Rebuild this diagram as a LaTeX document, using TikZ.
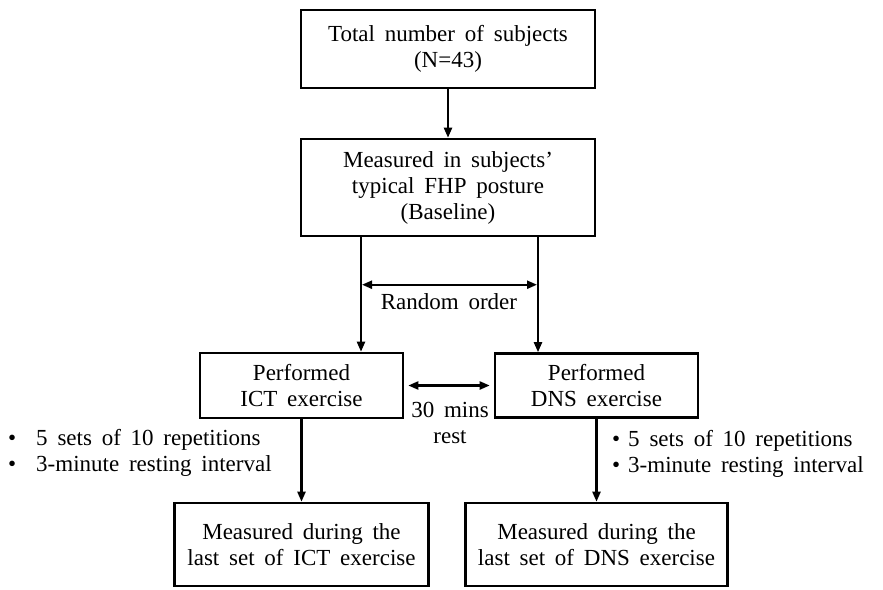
\documentclass[tikz,border=0pt]{standalone}
\usepackage{fontspec}
\setmainfont{Liberation Serif}[WordSpace=1.7]
\usetikzlibrary{arrows.meta,positioning,calc}

\begin{document}
\begin{tikzpicture}[x=1pt,y=-1pt]
    \tikzset{stepbox/.style={draw,line width=2.6pt,align=center,inner sep=2pt,font=\fontsize{23}{26}\selectfont},
      flow/.style={line width=2.2pt,-{Triangle[length=10pt,width=8pt]}},
      twoway/.style={line width=2.2pt,{Triangle[length=10pt,width=8pt]}-{Triangle[length=10pt,width=8pt]}},
      notetext/.style={align=left,inner sep=0pt,font=\fontsize{23}{26}\selectfont}}
    \useasboundingbox (0,0) rectangle (883,589);
    % boxes
    \node[stepbox,minimum width=294pt,minimum height=78pt] (total) at (448,49) {Total number of subjects\\(N=43)};
    \node[stepbox,minimum width=294pt,minimum height=97pt] (base) at (448,187.5) {Measured in subjects’\\typical FHP posture\\(Baseline)};
    \node[stepbox,minimum width=203pt,minimum height=65pt] (ict) at (301.5,385.5) {Performed\\ICT exercise};
    \node[stepbox,minimum width=203pt,minimum height=64pt] (dns) at (596.5,385.5) {Performed\\DNS exercise};
    \node[stepbox,minimum width=254pt,minimum height=83pt] (ictend) at (301.5,544.5) {Measured during the\\last set of ICT exercise};
    \node[stepbox,minimum width=262pt,minimum height=83pt] (dnsend) at (596.5,544.5) {Measured during the\\last set of DNS exercise};
    % side notes
    \node[notetext,anchor=west] (ictnote) at (8,453) {\textbullet\hspace{20pt}5 sets of 10 repetitions\\\textbullet\hspace{20pt}3-minute resting interval};
    \node[notetext,anchor=west] (dnsnote) at (612,454) {\textbullet\hspace{8pt}5 sets of 10 repetitions\\\textbullet\hspace{8pt}3-minute resting interval};
    \node[notetext,align=center] (rolabel) at (449,302) {Random order};
    \node[notetext,align=center] (restlabel) at (450,423) {30 mins\\rest};
    % connectors
    \coordinate (splitL) at (361,236);
    \coordinate (splitR) at (538,236);
    \draw[flow] (total.south) -- (base.north);
    \draw[flow] (splitL) -- (splitL |- ict.north);
    \draw[flow] (splitR) -- (splitR |- dns.north);
    \draw[twoway,shorten <=1pt,shorten >=1pt] (splitL |- rolabel.north) ++(0,-9) coordinate (roL) -- (roL -| splitR);
    \draw[twoway,shorten <=4pt,shorten >=4pt] (ict.east) -- (dns.west);
    \draw[flow] (ict.south) -- (ictend.north);
    \draw[flow] (dns.south) -- (dnsend.north);
\end{tikzpicture}
\end{document}
